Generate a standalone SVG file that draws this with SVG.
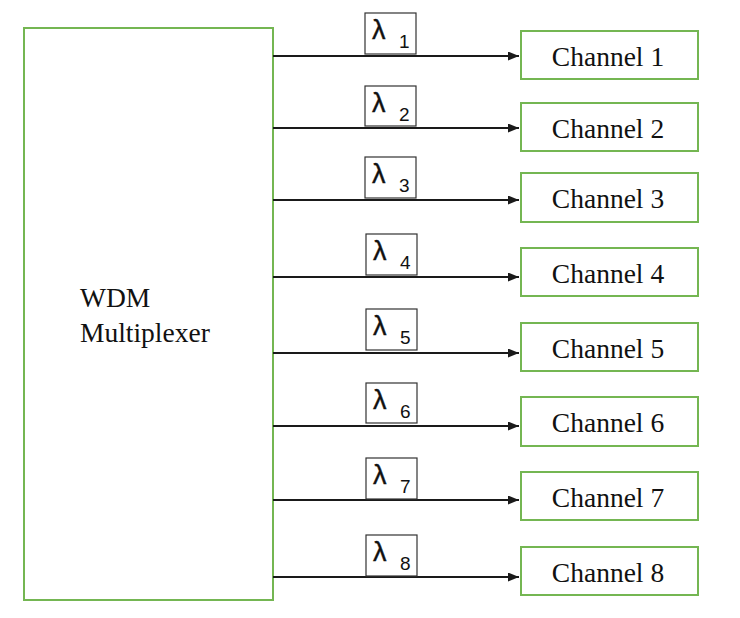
<svg xmlns="http://www.w3.org/2000/svg" width="740" height="618" viewBox="0 0 740 618">
<defs>
<marker id="arr" markerWidth="11" markerHeight="9" refX="11" refY="4.5" orient="auto" markerUnits="userSpaceOnUse">
<path d="M0,0 L11,4.5 L0,9 Z" fill="#1a1a1a"/>
</marker>
<style>
.g{fill:#fff;stroke:#74b652;stroke-width:2}
.lb{fill:#fff;stroke:#333;stroke-width:1.2}
.ln{stroke:#1a1a1a;stroke-width:1.8;fill:none}
.t{font-family:"Liberation Serif","Times New Roman",serif;font-size:27.5px;fill:#111}
.ch{text-anchor:middle}
.lam{font-family:"Liberation Sans",Arial,sans-serif;font-size:27px;fill:#111;stroke:#111;stroke-width:0.4}
.sub{font-family:"Liberation Sans",Arial,sans-serif;font-size:19px;fill:#111}
</style>
</defs>
<rect width="740" height="618" fill="#fff"/>
<g id="mux">
<rect class="g" x="24" y="28" width="249" height="572"/>
<text class="t" x="80" y="307">WDM</text>
<text class="t" x="80" y="342">Multiplexer</text>
</g>
<g id="connectors">
<line class="ln" x1="273" y1="56" x2="519" y2="56" marker-end="url(#arr)"/>
<line class="ln" x1="273" y1="128" x2="519" y2="128" marker-end="url(#arr)"/>
<line class="ln" x1="273" y1="200" x2="519" y2="200" marker-end="url(#arr)"/>
<line class="ln" x1="273" y1="277" x2="519" y2="277" marker-end="url(#arr)"/>
<line class="ln" x1="273" y1="353" x2="519" y2="353" marker-end="url(#arr)"/>
<line class="ln" x1="273" y1="426" x2="519" y2="426" marker-end="url(#arr)"/>
<line class="ln" x1="273" y1="500" x2="519" y2="500" marker-end="url(#arr)"/>
<line class="ln" x1="273" y1="577" x2="519" y2="577" marker-end="url(#arr)"/>
</g>
<g id="lambda1"><rect class="lb" x="365" y="13" width="51" height="41"/><text class="lam" x="372" y="39">λ</text><text class="sub" x="399" y="48">1</text></g>
<g id="lambda2"><rect class="lb" x="365" y="86" width="51" height="40"/><text class="lam" x="372" y="112">λ</text><text class="sub" x="399" y="121">2</text></g>
<g id="lambda3"><rect class="lb" x="365" y="157" width="51" height="41"/><text class="lam" x="372" y="183">λ</text><text class="sub" x="399" y="192">3</text></g>
<g id="lambda4"><rect class="lb" x="366" y="234" width="51" height="41"/><text class="lam" x="373" y="260">λ</text><text class="sub" x="400" y="269">4</text></g>
<g id="lambda5"><rect class="lb" x="366" y="309" width="51" height="41"/><text class="lam" x="373" y="335">λ</text><text class="sub" x="400" y="344">5</text></g>
<g id="lambda6"><rect class="lb" x="366" y="383" width="51" height="40"/><text class="lam" x="373" y="409">λ</text><text class="sub" x="400" y="418">6</text></g>
<g id="lambda7"><rect class="lb" x="366" y="458" width="51" height="41"/><text class="lam" x="373" y="484">λ</text><text class="sub" x="400" y="493">7</text></g>
<g id="lambda8"><rect class="lb" x="366" y="535" width="51" height="41"/><text class="lam" x="373" y="561">λ</text><text class="sub" x="400" y="570">8</text></g>
<g id="ch1"><rect class="g" x="521" y="31" width="177" height="48"/><text class="t ch" x="608" y="66">Channel 1</text></g>
<g id="ch2"><rect class="g" x="521" y="103" width="177" height="48"/><text class="t ch" x="608" y="138">Channel 2</text></g>
<g id="ch3"><rect class="g" x="521" y="173" width="177" height="49"/><text class="t ch" x="608" y="208">Channel 3</text></g>
<g id="ch4"><rect class="g" x="521" y="248" width="177" height="48"/><text class="t ch" x="608" y="283">Channel 4</text></g>
<g id="ch5"><rect class="g" x="521" y="323" width="177" height="48"/><text class="t ch" x="608" y="358">Channel 5</text></g>
<g id="ch6"><rect class="g" x="521" y="397" width="177" height="49"/><text class="t ch" x="608" y="432">Channel 6</text></g>
<g id="ch7"><rect class="g" x="521" y="472" width="177" height="48"/><text class="t ch" x="608" y="507">Channel 7</text></g>
<g id="ch8"><rect class="g" x="521" y="547" width="177" height="48"/><text class="t ch" x="608" y="582">Channel 8</text></g>
</svg>
